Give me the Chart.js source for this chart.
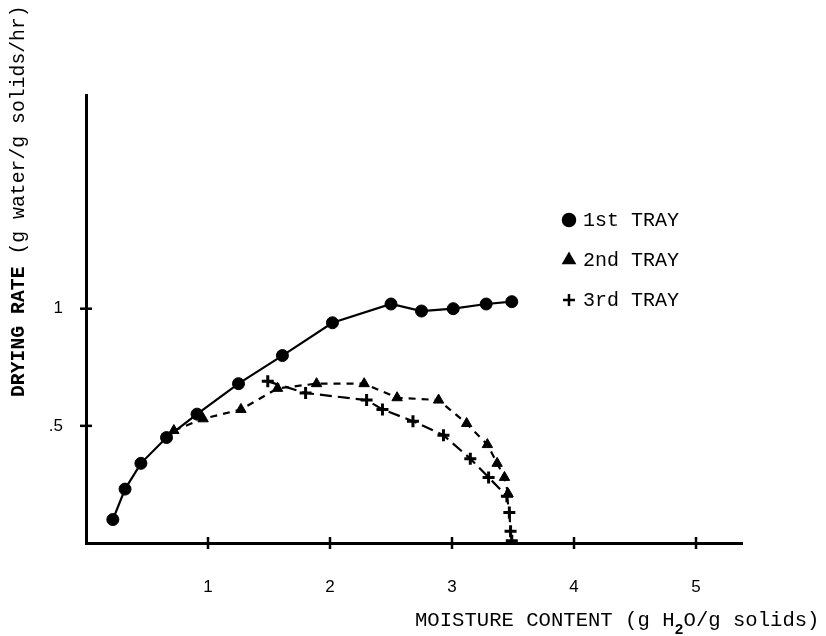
<!DOCTYPE html>
<html>
<head>
<meta charset="utf-8">
<script src="https://cdn.jsdelivr.net/npm/chart.js@4"></script>
<style>
  html, body { margin: 0; padding: 0; background: #fff; }
  #wrap { width: 826px; height: 636px; }
</style>
</head>
<body>
<div id="wrap"><canvas id="dryChart" width="826" height="636"></canvas></div>
<script>
/**** data ****/
const tray1X = [0.22, 0.32, 0.45, 0.66, 0.91, 1.25, 1.61, 2.02, 2.50, 2.75, 3.01, 3.28, 3.49];
const tray1Y = [0.10, 0.23, 0.34, 0.45, 0.55, 0.68, 0.80, 0.94, 1.02, 0.99, 1.00, 1.02, 1.03];

const tray2X = [0.72, 0.96, 1.27, 1.57, 1.89, 2.28, 2.55, 2.89, 3.12, 3.29, 3.37, 3.43, 3.46];
const tray2Y = [0.48, 0.53, 0.57, 0.66, 0.68, 0.68, 0.62, 0.61, 0.51, 0.42, 0.34, 0.28, 0.21];

const tray3X = [1.49, 1.80, 2.30, 2.43, 2.68, 2.93, 3.15, 3.30, 3.45, 3.47, 3.48, 3.49];
const tray3Y = [0.69, 0.64, 0.61, 0.57, 0.52, 0.46, 0.36, 0.28, 0.20, 0.13, 0.05, 0.01];

const trayLabels = ['1st TRAY', '2nd TRAY', '3rd TRAY'];
const xTicks = [1, 2, 3, 4, 5];
const yTicks = [0.5, 1];
const yTickLabels = ['.5', '1'];

const toPts = (xs, ys) => xs.map((x, i) => ({x: x, y: ys[i]}));

/**** extra drawing: crossing ticks, titles, legend ****/
const paperDecor = {
  id: 'paperDecor',
  afterDraw(chart) {
    const ctx = chart.ctx;
    const xs = chart.scales.x, ys = chart.scales.y;
    const area = chart.chartArea;
    ctx.save();
    ctx.strokeStyle = '#000';
    ctx.lineWidth = 2.5;
    // tick crosses on x axis
    xTicks.forEach(v => {
      const px = xs.getPixelForValue(v);
      ctx.beginPath();
      ctx.moveTo(px, area.bottom - 6);
      ctx.lineTo(px, area.bottom + 6);
      ctx.stroke();
    });
    // tick crosses on y axis
    yTicks.forEach(v => {
      const py = ys.getPixelForValue(v);
      ctx.beginPath();
      ctx.moveTo(area.left - 6, py);
      ctx.lineTo(area.left + 6, py);
      ctx.stroke();
    });

    // x title with subscript
    ctx.fillStyle = '#000';
    ctx.textBaseline = 'alphabetic';
    ctx.textAlign = 'left';
    let tx = 415;
    const ty = 626;
    ctx.font = '20.6px "Liberation Mono"';
    const part1 = 'MOISTURE CONTENT (g H';
    ctx.fillText(part1, tx, ty);
    tx += ctx.measureText(part1).width;
    ctx.font = 'bold 15px "Liberation Mono"';
    ctx.fillText('2', tx, ty + 8);
    tx += ctx.measureText('2').width;
    ctx.font = '20.6px "Liberation Mono"';
    ctx.fillText('O/g solids)', tx, ty);

    // y title, rotated
    ctx.save();
    ctx.translate(24, 397);
    ctx.rotate(-Math.PI / 2);
    ctx.font = 'bold 19.8px "Liberation Mono"';
    const bold = 'DRYING RATE ';
    ctx.fillText(bold, 0, 0);
    const bw = ctx.measureText(bold).width;
    ctx.font = '19.8px "Liberation Mono"';
    ctx.fillText('(g water/g solids/hr)', bw, 0);
    ctx.restore();

    // legend
    chart.data.datasets.forEach((ds, i) => {
      const ly = 220 + i * 40;
      Chart.helpers.drawPoint(ctx, {
        pointStyle: ds.pointStyle,
        radius: ds.pointRadius,
        borderWidth: ds.pointStyle === 'cross' ? 3 : 1
      }, 569, ly);
      ctx.fillStyle = '#000';
      ctx.font = '20px "Liberation Mono"';
      ctx.textBaseline = 'middle';
      ctx.fillText(ds.label, 583, ly + 1);
    });
    ctx.restore();
  }
};

const dryData = {
  datasets: [{
    label: trayLabels[0],
    data: toPts(tray1X, tray1Y),
    borderColor: '#000',
    backgroundColor: '#000',
    borderWidth: 2.2,
    pointStyle: 'circle',
    pointRadius: 6,
    pointBorderWidth: 1,
  },
  {
    label: trayLabels[1],
    data: toPts(tray2X, tray2Y),
    borderColor: '#000',
    backgroundColor: '#000',
    borderWidth: 2.2,
    borderDash: [7, 6],
    pointStyle: 'triangle',
    pointRadius: 6,
    pointBorderWidth: 1,
  },
  {
    label: trayLabels[2],
    data: toPts(tray3X, tray3Y),
    borderColor: '#000',
    backgroundColor: '#000',
    borderWidth: 2.2,
    borderDash: [12, 6],
    pointStyle: 'cross',
    pointRadius: 6,
    pointBorderWidth: 3,
  }]
};

const dryConfig = {
  type: 'line',
  data: dryData,
  plugins: [paperDecor],
  options: {
    responsive: false,
    animation: false,
    layout: { padding: { top: 95, right: 84, left: 0, bottom: 0 } },
    plugins: {
      legend: { display: false },
      tooltip: { enabled: false },
    },
    scales: {
      x: {
        type: 'linear',
        min: 0,
        max: 5.377,
        afterBuildTicks: s => { s.ticks = xTicks.map(v => ({value: v})); },
        afterFit: s => { s.height = 636 - 543; },
        grid: { display: false },
        border: { display: true, color: '#000', width: 3 },
        ticks: {
          color: '#000',
          padding: 26,
          font: { family: 'Liberation Sans', size: 17 },
          callback: v => String(v),
        },
      },
      y: {
        type: 'linear',
        min: 0,
        max: 1.912,
        afterBuildTicks: s => { s.ticks = yTicks.map(v => ({value: v})); },
        afterFit: s => { s.width = 86; },
        grid: { display: false },
        border: { display: true, color: '#000', width: 3 },
        ticks: {
          color: '#000',
          padding: 15,
          font: { family: 'Liberation Sans', size: 17 },
          callback: v => yTickLabels[yTicks.indexOf(v)],
        },
      }
    }
  }
};

var dryChart = new Chart(document.getElementById('dryChart'), dryConfig);
</script>
</body>
</html>
